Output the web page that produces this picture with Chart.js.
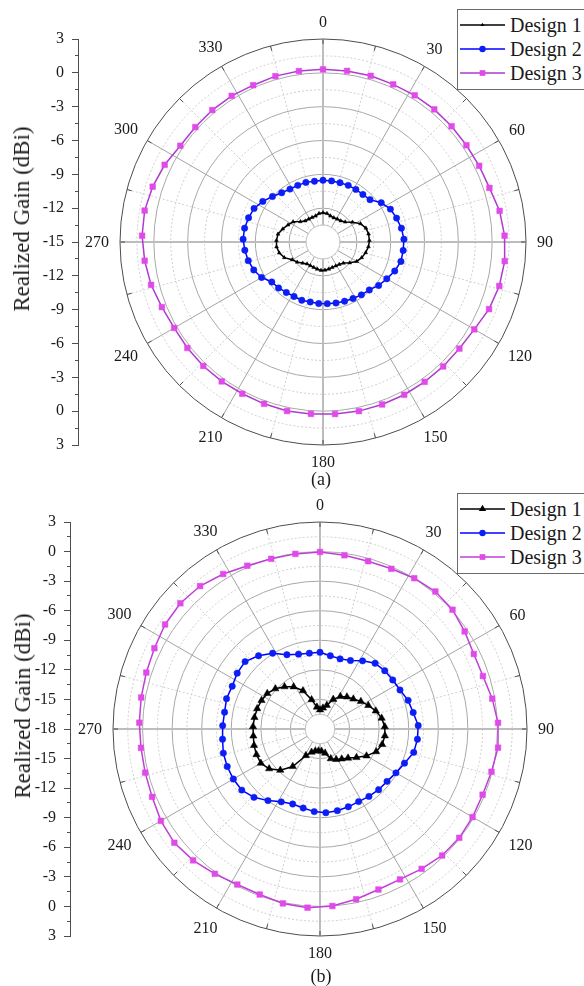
<!DOCTYPE html>
<html>
<head>
<meta charset="utf-8">
<script src="https://cdn.jsdelivr.net/npm/chart.js@4/dist/chart.umd.min.js"></script>
<style>
  html, body { margin: 0; padding: 0; background: #fff; }
  body { width: 584px; height: 986px; position: relative; overflow: hidden;
         font-family: "Liberation Serif", "Times New Roman", serif; color: #1a1a1a; }
  .panel { position: absolute; left: 0; width: 584px; height: 493px; }
  #pa { top: 0; }
  #pb { top: 493px; }
  .panel canvas { position: absolute; left: 0; top: 0; }
  .ytitle { position: absolute; font-size: 23px; white-space: nowrap;
            transform: translate(-50%, -50%) rotate(-90deg); }
  .legend { position: absolute; left: 457px; width: 140px; border: 1px solid #6b6b6b;
            background: #fff; padding: 3px 0; }
  .legend .row { height: 24.2px; display: flex; align-items: center; font-size: 20px; white-space: nowrap; }
  .legend svg { width: 48px; height: 24px; margin: 0 2px 0 2px; flex: none; }
  .sub { position: absolute; left: 291px; width: 60px; text-align: center; font-size: 18px; line-height: 20px; }
</style>
</head>
<body>
<div class="panel" id="pa">
  <canvas id="chartA" width="584" height="493"></canvas>
  <div class="ytitle" style="left:22px; top:219px;">Realized Gain (dBi)</div>
  <div class="legend" id="legA" style="top:9px;"></div>
  <div class="sub" style="top:469px;">(a)</div>
</div>
<div class="panel" id="pb">
  <canvas id="chartB" width="584" height="493"></canvas>
  <div class="ytitle" style="left:23px; top:213px;">Realized Gain (dBi)</div>
  <div class="legend" id="legB" style="top:0px;"></div>
  <div class="sub" style="top:473px;">(b)</div>
</div>
<script>
'use strict';

// Sample angles (deg), 0 at top, clockwise
var ANGLES = [0, 8, 16, 24, 32, 40, 48, 56, 64,
              72, 80, 88, 96, 104, 112, 120, 128, 136,
              144, 152, 160, 168, 176, 184, 192, 200, 208,
              216, 224, 232, 240, 248, 256, 264, 272, 280,
              288, 296, 304, 312, 320, 328, 336, 344, 352];
var ANGLE_LABELS = [0, 30, 60, 90, 120, 150, 180, 210, 240, 270, 300, 330];
var SERIES_NAMES = ['Design 1', 'Design 2', 'Design 3'];

// (a) realized gain, dBi
var A_RANGE = [-15, 3];
var A_DESIGN1 = [-12.4, -12.45, -12.6, -12.65, -12.6, -12.55, -12.35, -11.85, -11.3,
                 -11.0, -10.9, -10.88, -10.95, -11.1, -11.3, -11.55, -12.0, -12.4,
                 -12.55, -12.6, -12.6, -12.55, -12.5, -12.48, -12.55, -12.6, -12.62,
                 -12.6, -12.4, -12.1, -11.85, -11.3, -11.0, -10.86, -10.87, -10.95,
                 -11.25, -11.55, -11.8, -12.3, -12.55, -12.6, -12.62, -12.6, -12.45];
var A_DESIGN2 = [-9.53, -9.53, -9.53, -9.5, -9.5, -9.5, -9.39, -8.77, -8.35,
                 -8.14, -7.94, -7.82, -7.85, -7.88, -8.14, -8.47, -8.74, -9.09,
                 -9.21, -9.33, -9.41, -9.47, -9.52, -9.53, -9.56, -9.5, -9.53,
                 -9.47, -9.33, -9.24, -8.71, -8.38, -8.17, -8.03, -7.91, -7.94,
                 -8.06, -8.2, -8.56, -8.97, -9.3, -9.47, -9.5, -9.5, -9.56];
var A_DESIGN3 = [0.31, 0.32, 0.33, 0.30, 0.34, 0.35, 0.34, 0.34, 0.41,
                 0.52, 0.90, 1.11, 1.20, 1.11, 0.88, 0.49, 0.35, 0.34,
                 0.33, 0.34, 0.33, 0.33, 0.29, 0.28, 0.32, 0.27, 0.24,
                 0.28, 0.28, 0.26, 0.24, 0.41, 0.71, 0.90, 1.05, 1.06,
                 0.88, 0.62, 0.26, 0.23, 0.27, 0.28, 0.22, 0.30, 0.31];

// (b) realized gain, dBi
var B_RANGE = [-18, 3];
var B_DESIGN1 = [-16.05, -15.85, -15.5, -14.7, -14.1, -13.75, -13.45, -13.0, -12.55,
                 -12.05, -11.65, -11.42, -11.38, -11.5, -11.85, -12.55, -13.3, -13.9,
                 -14.25, -14.5, -14.8, -15.5, -15.75, -15.78, -15.72, -15.5, -14.95,
                 -13.3, -12.2, -11.45, -11.07, -11.05, -11.1, -11.2, -11.2, -11.25,
                 -11.3, -11.4, -11.55, -11.9, -12.4, -12.95, -13.75, -14.9, -15.75];
var B_DESIGN2 = [-10.22, -10.5, -10.6, -10.4, -9.85, -9.3, -9.16, -9.1, -8.97,
                 -8.6, -8.4, -8.03, -8.06, -8.2, -8.75, -9.1, -9.37, -9.44,
                 -9.55, -9.66, -9.6, -9.53, -9.49, -9.6, -9.8, -9.9, -9.63,
                 -9.02, -8.36, -7.93, -7.85, -7.85, -7.89, -8.06, -8.12, -8.17,
                 -8.03, -8.09, -7.87, -7.78, -8.3, -8.93, -9.75, -10.1, -10.23];
var B_DESIGN3 = [-0.04, -0.2, -0.29, -0.21, 0.04, 0.21, 0.09, -0.3, -0.64,
                 -0.62, -0.26, 0.07, 0.16, -0.07, -0.21, -0.13, -0.07, -0.16,
                 -0.46, -0.72, -0.67, -0.34, 0.0, 0.17, 0.09, -0.13, -0.13,
                 0.16, 0.53, 0.75, 0.64, 0.37, 0.28, 0.26, 0.34, 0.42,
                 0.53, 0.69, 0.96, 1.06, 0.93, 0.54, 0.13, -0.04, -0.06];

var STYLE_A = [
  { line: '#000000', marker: '#000000', shape: 'triangle', radius: 2.2 },
  { line: '#0000ff', marker: '#0a1ef5', shape: 'circle',   radius: 3.2 },
  { line: '#b03ad0', marker: '#e04ae8', shape: 'rect',     radius: 4 }
];
var STYLE_B = [
  { line: '#000000', marker: '#000000', shape: 'triangle', radius: 4.2 },
  { line: '#0000ff', marker: '#0a1ef5', shape: 'circle',   radius: 3.2 },
  { line: '#c03ed8', marker: '#e04ae8', shape: 'rect',     radius: 4 }
];

// one radar "category" per degree so that grid spokes and samples share the same slots
var DEG_SLOTS = Array.from({ length: 360 }, function (_, i) { return i; });

function slots(angles, values) {
  var out = DEG_SLOTS.map(function () { return null; });
  angles.forEach(function (a, i) { out[a] = values[i]; });
  return out;
}

// white hub + short rim ticks every 15 deg
var polarDecor = {
  id: 'polarDecor',
  beforeDatasetsDraw: function (chart) {
    var r = chart.scales.r, ctx = chart.ctx;
    var R = r.drawingArea;
    var hub = r.getDistanceFromCenterForValue(r.min + 1.5);
    ctx.save();
    ctx.beginPath();
    ctx.arc(r.xCenter, r.yCenter, hub, 0, 2 * Math.PI);
    ctx.fillStyle = '#fff';
    ctx.fill();
    ctx.strokeStyle = '#c2c2c2';
    ctx.lineWidth = 1;
    ctx.stroke();
    ctx.strokeStyle = '#4d4d4d';
    for (var d = 0; d < 360; d += 15) {
      var p1 = r.getPointPosition(d, R - 5), p2 = r.getPointPosition(d, R);
      ctx.beginPath();
      ctx.moveTo(p1.x, p1.y);
      ctx.lineTo(p2.x, p2.y);
      ctx.stroke();
    }
    ctx.restore();
  }
};

// angle labels just outside the rim
var angleLabels = {
  id: 'angleLabels',
  afterDraw: function (chart) {
    var r = chart.scales.r, ctx = chart.ctx;
    var R = r.drawingArea;
    ctx.save();
    ctx.font = '16px "Liberation Serif", serif';
    ctx.fillStyle = '#1a1a1a';
    ctx.textAlign = 'center';
    ctx.textBaseline = 'middle';
    ANGLE_LABELS.forEach(function (deg) {
      var txt = String(deg);
      var w = ctx.measureText(txt).width, h = 12;
      var a = deg * Math.PI / 180;
      var off = R + 11 + Math.abs(Math.sin(a)) * w / 2 + Math.abs(Math.cos(a)) * h / 2;
      var p = r.getPointPosition(deg, off);
      ctx.fillText(txt, p.x, p.y + 1);
    });
    ctx.restore();
  }
};

function polarChart(id, p) {
  var rMin = p.range[0], rMax = p.range[1], span = rMax - rMin;
  var isMajor = function (v) { var k = (v - rMin) / 3; return Math.abs(k - Math.round(k)) < 1e-6; };
  var font = { family: '"Liberation Serif", "Times New Roman", serif', size: 16 };

  var datasets = p.series.map(function (vals, i) {
    var s = p.styles[i];
    return {
      label: SERIES_NAMES[i],
      data: slots(ANGLES, vals),
      borderColor: s.line,
      backgroundColor: s.marker,
      borderWidth: 1.5,
      fill: false,
      spanGaps: true,
      tension: 0,
      pointStyle: s.shape,
      pointRadius: s.radius,
      pointBackgroundColor: s.marker,
      pointBorderColor: s.marker,
      pointBorderWidth: 0.5
    };
  });

  return new Chart(document.getElementById(id), {
    type: 'radar',
    data: { labels: DEG_SLOTS, datasets: datasets },
    options: {
      responsive: false,
      animation: false,
      devicePixelRatio: 1,
      events: [],
      layout: { padding: p.padding },
      plugins: { legend: { display: false }, tooltip: { enabled: false } },
      scales: {
        r: {
          type: 'radialLinear',
          min: rMin, max: rMax,
          ticks: { display: false, stepSize: 1.5 },
          pointLabels: { display: false },
          grid: {
            circular: true,
            lineWidth: 1,
            color: function (c) {
              var v = c.tick.value;
              if (v >= rMax - 1e-6) return '#4d4d4d';
              return isMajor(v) ? '#a8a8a8' : '#cdcdcd';
            }
          },
          border: {
            dash: function (c) { return isMajor(c.tick.value) ? [] : [2, 2]; }
          },
          angleLines: {
            color: function (c) {
              var d = c.index;
              if (d % 90 === 0) return '#bdbdbd';
              if (d % 30 === 0) return '#a3a3a3';
              if (d % 15 === 0) return '#cfcfcf';
              return 'rgba(0,0,0,0)';
            },
            lineWidth: function (c) {
              var d = c.index;
              return d % 90 === 0 ? 2 : (d % 15 === 0 ? 1 : 0);
            },
            borderDash: function (c) { return c.index % 30 === 0 ? [] : [2, 2]; }
          }
        },
        // mirrored gain axis on the left: rim -> centre -> rim
        y: {
          type: 'linear', axis: 'y', position: 'left', weight: 1,
          min: -span, max: span,
          afterFit: function (s) { s.width = p.axisX; },
          ticks: {
            stepSize: 3, font: font, color: '#1a1a1a', padding: 8,
            callback: function (v) { return String(Math.round(rMin + Math.abs(v))); }
          },
          grid: { drawOnChartArea: false, tickLength: 6, tickColor: '#4d4d4d', color: '#4d4d4d' },
          border: { display: true, color: '#4d4d4d', width: 1 }
        },
        ym: {
          type: 'linear', axis: 'y', position: 'left', weight: 0,
          min: -span, max: span,
          afterFit: function (s) { s.width = 0; },
          ticks: { stepSize: 1.5, display: false },
          grid: { drawOnChartArea: false, tickLength: 3, tickColor: '#4d4d4d', color: '#4d4d4d' },
          border: { display: false }
        }
      }
    },
    plugins: [polarDecor, angleLabels]
  });
}

function legend(elId, styles) {
  var el = document.getElementById(elId);
  el.innerHTML = SERIES_NAMES.map(function (name, i) {
    var s = styles[i], cx = 22.5, cy = 12, m;
    if (s.shape === 'triangle') {
      var k = s.radius;
      m = '<polygon points="' + cx + ',' + (cy - k) + ' ' + (cx - k * 0.87) + ',' + (cy + k / 2) +
          ' ' + (cx + k * 0.87) + ',' + (cy + k / 2) + '" fill="' + s.marker + '"/>';
    } else if (s.shape === 'circle') {
      m = '<circle cx="' + cx + '" cy="' + cy + '" r="' + s.radius + '" fill="' + s.marker + '"/>';
    } else {
      var h = s.radius * 0.71;
      m = '<rect x="' + (cx - h) + '" y="' + (cy - h) + '" width="' + 2 * h + '" height="' + 2 * h +
          '" fill="' + s.marker + '"/>';
    }
    return '<div class="row"><svg viewBox="0 0 48 24"><line x1="0" y1="12" x2="45" y2="12" stroke="' +
           s.line + '" stroke-width="1.5"/>' + m + '</svg>' + name + '</div>';
  }).join('');
}

polarChart('chartA', {
  range: A_RANGE,
  series: [A_DESIGN1, A_DESIGN2, A_DESIGN3],
  styles: STYLE_A,
  axisX: 78,
  padding: { top: 39, right: 16, bottom: 48, left: 0 }
});
polarChart('chartB', {
  range: B_RANGE,
  series: [B_DESIGN1, B_DESIGN2, B_DESIGN3],
  styles: STYLE_B,
  axisX: 70,
  padding: { top: 29, right: 14, bottom: 50, left: 0 }
});
legend('legA', STYLE_A);
legend('legB', STYLE_B);
</script>
</body>
</html>
